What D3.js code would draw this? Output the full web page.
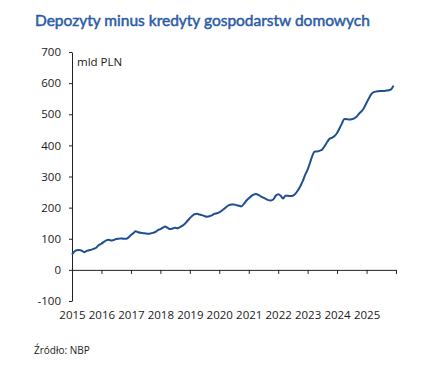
<!DOCTYPE html>
<meta charset="utf-8">
<style>
    body { margin: 0; background: #fff; }
    svg { display: block; }
    .axis text { font-family: "Open Sans", sans-serif; font-size: 11.5px; fill: #1a1a1a; }
    .axis path, .axis line { stroke: #222; }
</style>
<svg width="426" height="377"></svg>
<script src="https://cdnjs.cloudflare.com/ajax/libs/d3/7.8.5/d3.min.js"></script>
<script>

    // monthly values, mld PLN, Jan 2015 .. Dec 2025
    var startYear = 2015;
    var values = [
        49, 59, 63, 64, 62, 57, 61, 63, 65, 68, 72, 80,          // 2015
        84, 90, 95, 97, 94, 96, 99, 100, 101, 100, 100, 104,     // 2016
        112, 118, 124, 121, 119, 118, 117, 116, 117, 119, 122, 128, // 2017
        131, 136, 139, 135, 131, 133, 135, 134, 137, 142, 148, 157, // 2018
        166, 174, 179, 180, 178, 176, 173, 171, 172, 175, 180, 182, // 2019
        185, 190, 196, 203, 208, 210, 210, 208, 206, 204, 212, 222, // 2020
        230, 237, 242, 244, 241, 236, 232, 228, 224, 223, 226, 238, // 2021
        243, 238, 229, 238, 238, 237, 238, 244, 255, 268, 285, 305, // 2022
        322, 345, 367, 380, 380, 383, 387, 398, 411, 421, 425, 430, // 2023
        440, 455, 470, 485, 484, 483, 484, 487, 493, 502, 510, 521, // 2024
        537, 552, 565, 571, 573, 574, 575, 575, 576, 577, 580, 592  // 2025
    ];
    var yearTicks = [2015, 2016, 2017, 2018, 2019, 2020, 2021, 2022, 2023, 2024, 2025, 2026];
    var yearLabels = [2015, 2016, 2017, 2018, 2019, 2020, 2021, 2022, 2023, 2024, 2025];
    var valueTicks = [-100, 0, 100, 200, 300, 400, 500, 600, 700];

    var title = "Depozyty minus kredyty gospodarstw domowych";
    var unit = "mld PLN";
    var source = "Źródło: NBP";

    var svg = d3.select("svg");
    var margin = {left: 72, right: 30, top: 52, bottom: 76};
    var width = +svg.attr("width"), height = +svg.attr("height");

    var data = values.map(function(v, i) {
        return {date: new Date(startYear, i, 1), value: v};
    });

    var x = d3.scaleTime()
            .domain([new Date(yearTicks[0], 0, 1), new Date(yearTicks[yearTicks.length - 1], 0, 1)])
            .range([margin.left, width - margin.right]);

    var y = d3.scaleLinear()
            .domain([-100, 700])
            .range([height - margin.bottom, margin.top]);

    svg.append("text")
            .attr("x", 35)
            .attr("y", 26)
            .attr("fill", "#2a5ba8")
            .attr("stroke", "#2a5ba8")
            .attr("stroke-width", 0.5)
            .style("font-family", "Lato, sans-serif")
            .style("font-size", "15.5px")
            .style("font-weight", 400)
            .text(title);

    // y axis
    svg.append("g")
            .attr("class", "axis")
            .attr("transform", "translate(" + margin.left + ",0)")
            .call(d3.axisLeft(y).tickValues(valueTicks).tickSize(3).tickPadding(8).tickSizeOuter(0)
                    .tickFormat(function(d) { return String(d); }));

    // x axis at zero with ticks only
    svg.append("g")
            .attr("class", "axis")
            .attr("transform", "translate(0," + y(0) + ")")
            .call(d3.axisBottom(x)
                    .tickValues(yearTicks.map(function(d) { return new Date(d, 0, 1); }))
                    .tickSize(4).tickSizeOuter(0).tickFormat(""));

    // year labels below the plot
    var xl = svg.append("g")
            .attr("class", "axis")
            .attr("transform", "translate(0," + y(-100) + ")")
            .call(d3.axisBottom(x)
                    .tickValues(yearLabels.map(function(d) { return new Date(d, 0, 1); }))
                    .tickSize(0).tickPadding(10)
                    .tickFormat(d3.timeFormat("%Y")));
    xl.select(".domain").remove();

    svg.append("text")
            .attr("x", margin.left + 5)
            .attr("y", 66)
            .attr("fill", "#1a1a1a")
            .style("font-family", "'Open Sans', sans-serif")
            .style("font-size", "11.5px")
            .text(unit);

    var line = d3.line()
            .x(function(d) { return x(d.date); })
            .y(function(d) { return y(d.value); })
            .curve(d3.curveMonotoneX);

    svg.append("path")
            .datum(data)
            .attr("fill", "none")
            .attr("stroke", "#1f4e91")
            .attr("stroke-width", 2)
            .attr("stroke-linejoin", "round")
            .attr("d", line);

    svg.append("text")
            .attr("x", 34)
            .attr("y", 354)
            .attr("fill", "#1a1a1a")
            .style("font-family", "'Open Sans', sans-serif")
            .style("font-size", "10px")
            .text(source);

</script>
